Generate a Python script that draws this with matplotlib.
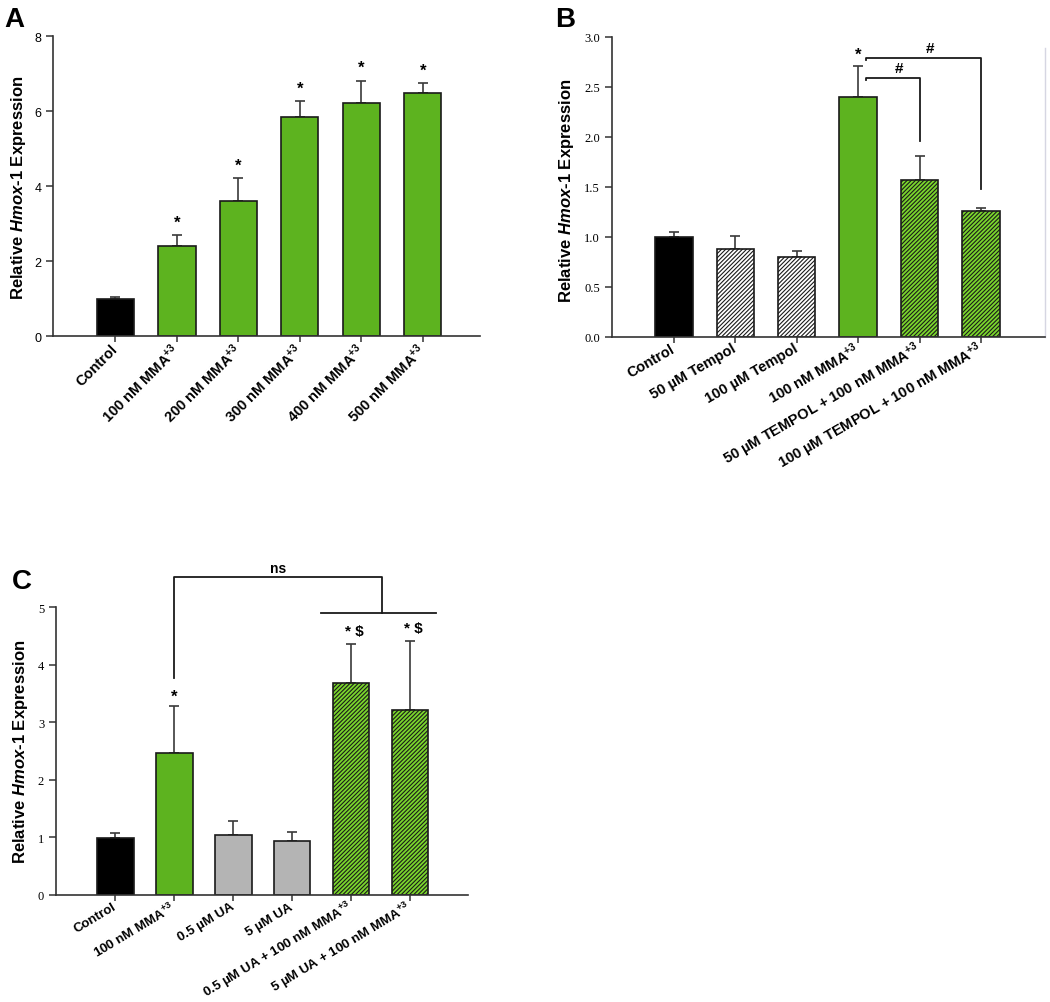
import numpy as np
import matplotlib
matplotlib.use("Agg")
import matplotlib.pyplot as plt

# Configuração de fontes (Arial -> Liberation Sans)
plt.rcParams['font.family'] = ['Liberation Sans', 'DejaVu Sans']
plt.rcParams['mathtext.fontset'] = 'custom'
plt.rcParams['mathtext.rm'] = 'Liberation Sans:bold'
plt.rcParams['mathtext.it'] = 'Liberation Sans:italic:bold'
plt.rcParams['mathtext.bf'] = 'Liberation Sans:bold'
plt.rcParams['hatch.linewidth'] = 0.8
plt.rcParams['hatch.color'] = 'black'

MMA = 'MMA$^{+3}$'

# Painel A - dose resposta
a_labels = ['Control', '100 nM ' + MMA, '200 nM ' + MMA, '300 nM ' + MMA,
            '400 nM ' + MMA, '500 nM ' + MMA]
a_means = [1.0, 2.41, 3.62, 5.84, 6.22, 6.5]
a_err = [0.04, 0.30, 0.59, 0.43, 0.60, 0.25]
a_stars = ['', '*', '*', '*', '*', '*']

# Painel B - Tempol
b_labels = ['Control', '50 µM Tempol', '100 µM Tempol', '100 nM ' + MMA,
            '50 µM TEMPOL + 100 nM ' + MMA, '100 µM TEMPOL + 100 nM ' + MMA]
b_means = [1.0, 0.877, 0.793, 2.40, 1.57, 1.26]
b_err = [0.047, 0.133, 0.066, 0.31, 0.235, 0.024]

# Painel C - UA
c_labels = ['Control', '100 nM ' + MMA, '0.5 µM UA', '5 µM UA',
            '0.5 µM UA + 100 nM ' + MMA, '5 µM UA + 100 nM ' + MMA]
c_means = [0.985, 2.47, 1.04, 0.945, 3.68, 3.22]
c_err = [0.093, 0.81, 0.243, 0.15, 0.69, 1.20]

GREEN = '#5db31f'
HGREEN = '#7ad62c'
GRAY = '#b4b4b4'
HATCH = '////////'
ylabel = 'Relative $\\mathit{Hmox\u20101}$ Expression'


def draw_bars(ax, means, err, faces, hatches, width):
    x = np.arange(len(means))
    for i in range(len(means)):
        ax.bar(x[i], means[i], width=width, color=faces[i], edgecolor='#1a1a1a',
               linewidth=1.2, hatch=hatches[i], zorder=2)
    ax.errorbar(x, means, yerr=[np.zeros(len(err)), err], fmt='none',
                ecolor='#3a3a3a', elinewidth=1.2, capsize=3.3, capthick=1.2, zorder=1)
    return x


def style_axes(ax, labels, rot, fs, tickfont):
    for s in ['top', 'right']:
        ax.spines[s].set_visible(False)
    for s in ['left', 'bottom']:
        ax.spines[s].set_color('#333333')
        ax.spines[s].set_linewidth(1.2)
    ax.tick_params(axis='y', direction='out', length=5, width=1.1, colors='#333333',
                   labelcolor='black', labelsize=9)
    ax.tick_params(axis='x', direction='out', length=4, width=1.1, colors='#333333',
                   labelcolor='black')
    ax.set_xticks(np.arange(len(labels)))
    ax.set_xticklabels(labels, rotation=rot, ha='right', va='center',
                       rotation_mode='anchor', fontsize=fs, fontweight='bold')
    for t in ax.get_yticklabels():
        t.set_family(tickfont)
    ax.set_ylabel(ylabel, fontsize=12, fontweight='bold')


fig = plt.figure(figsize=(10.5, 10.03), dpi=100)

# ---- A ----
axA = fig.add_axes([0.0508, 0.6637, 0.4063, 0.2991])
xA = draw_bars(axA, a_means, a_err, ['black'] + [GREEN] * 5, [None] * 6, 0.607)
axA.set_ylim(0, 8)
axA.set_xlim(-1.01, 5.93)
axA.set_yticks([0, 2, 4, 6, 8])
style_axes(axA, a_labels, 45, 10.5, ['Liberation Sans'])
axA.yaxis.set_label_coords(-0.059, 0.5)
for i in range(len(a_means)):
    if a_stars[i]:
        axA.annotate(a_stars[i], (xA[i], a_means[i] + a_err[i]), xytext=(0, 6),
                     textcoords='offset points', ha='center', va='baseline',
                     fontsize=12, fontweight='bold')

# ---- B ----
axB = fig.add_axes([0.5826, 0.6633, 0.4126, 0.2991])
xB = draw_bars(axB, b_means, b_err,
               ['black', 'white', 'white', GREEN, HGREEN, HGREEN],
               [None, HATCH, HATCH, None, HATCH, HATCH], 0.61)
axB.set_ylim(0, 3)
axB.set_xlim(-1.01, 6.04)
axB.set_yticks(np.arange(0, 3.01, 0.5))
axB.set_yticklabels(['%.1f' % v for v in np.arange(0, 3.01, 0.5)])
style_axes(axB, b_labels, 30, 10.5, ['Liberation Serif'])
axB.spines['right'].set_visible(True)
axB.spines['right'].set_color('#d6d6e2')
axB.spines['right'].set_linewidth(1.0)
axB.spines['right'].set_bounds(0, 2.89)
axB.yaxis.set_label_coords(-0.082, 0.49)
axB.annotate('*', (xB[3], b_means[3] + b_err[3]), xytext=(0, 5),
             textcoords='offset points', ha='center', va='baseline',
             fontsize=12, fontweight='bold')
# colchetes de comparação
axB.plot([3.13, 3.13, 4.0, 4.0], [2.57, 2.59, 2.59, 1.96], color='#1a1a1a', lw=1.3, zorder=3)
axB.plot([3.13, 3.13, 5.0, 5.0], [2.77, 2.79, 2.79, 1.48], color='#1a1a1a', lw=1.3, zorder=3)
axB.text(3.66, 2.62, '#', ha='center', va='bottom', fontsize=11, fontweight='bold')
axB.text(4.17, 2.82, '#', ha='center', va='bottom', fontsize=11, fontweight='bold')

# ---- C ----
axC = fig.add_axes([0.0533, 0.1067, 0.3921, 0.2868])
xC = draw_bars(axC, c_means, c_err,
               ['black', GREEN, GRAY, GRAY, HGREEN, HGREEN],
               [None, None, None, None, HATCH, HATCH], 0.62)
axC.set_ylim(0, 5)
axC.set_xlim(-1.01, 5.98)
axC.set_yticks([0, 1, 2, 3, 4, 5])
style_axes(axC, c_labels, 31, 9.5, ['Liberation Serif'])
axC.yaxis.set_label_coords(-0.063, 0.5)
axC.annotate('*', (xC[1], c_means[1] + c_err[1]), xytext=(0, 4),
             textcoords='offset points', ha='center', va='baseline',
             fontsize=12, fontweight='bold')
for i in [4, 5]:
    axC.annotate('* \\$', (xC[i] + 0.06, c_means[i] + c_err[i]), xytext=(0, 6),
                 textcoords='offset points', ha='center', va='baseline',
                 fontsize=11, fontweight='bold')
axC.plot([1.0, 1.0, 4.52, 4.52], [3.77, 5.52, 5.52, 4.90], color='#1a1a1a',
         lw=1.3, clip_on=False, zorder=3)
axC.plot([3.49, 5.44], [4.90, 4.90], color='#1a1a1a', lw=1.3, clip_on=False, zorder=3)
axC.text(2.76, 5.56, 'ns', ha='center', va='bottom', fontsize=10, fontweight='bold')

# letras dos painéis
fig.text(0.004, 0.993, 'A', fontsize=20, fontweight='bold', ha='left', va='top')
fig.text(0.529, 0.993, 'B', fontsize=20, fontweight='bold', ha='left', va='top')
fig.text(0.011, 0.433, 'C', fontsize=20, fontweight='bold', ha='left', va='top')

plt.savefig('out.png', dpi=100)
